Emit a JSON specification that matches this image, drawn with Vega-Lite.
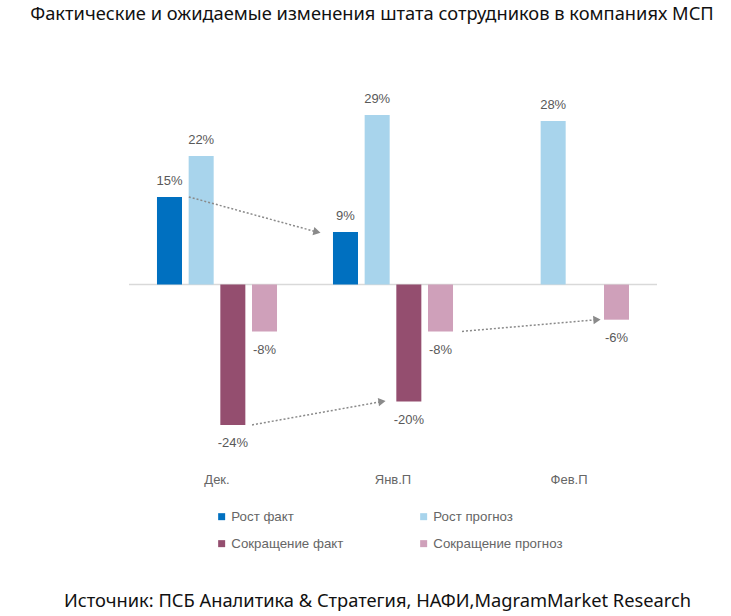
{
  "$schema": "https://vega.github.io/schema/vega-lite/v6.json",
  "width": 528,
  "height": 380,
  "autosize": {"type": "none"},
  "padding": {"left": 129, "top": 80, "right": 74, "bottom": 156},
  "background": "white",
  "title": {
    "text": "Фактические и ожидаемые изменения штата сотрудников в компаниях МСП",
    "font": "Noto Sans",
    "fontSize": 18.3,
    "fontWeight": "normal",
    "color": "#111111",
    "anchor": "middle",
    "dx": -21,
    "offset": 42,
    "baseline": "alphabetic"
  },
  "config": {"view": {"stroke": null}},
  "datasets": {
    "staff": [
      {"month": "Дек.", "series": "Рост факт", "value": 15},
      {"month": "Дек.", "series": "Рост прогноз", "value": 22},
      {"month": "Дек.", "series": "Сокращение факт", "value": -24},
      {"month": "Дек.", "series": "Сокращение прогноз", "value": -8},
      {"month": "Янв.П", "series": "Рост факт", "value": 9},
      {"month": "Янв.П", "series": "Рост прогноз", "value": 29},
      {"month": "Янв.П", "series": "Сокращение факт", "value": -20},
      {"month": "Янв.П", "series": "Сокращение прогноз", "value": -8},
      {"month": "Фев.П", "series": "Рост прогноз", "value": 28},
      {"month": "Фев.П", "series": "Сокращение прогноз", "value": -6}
    ],
    "arrows": [
      {"arrow": "рост", "t": -0.16, "value": 15, "head": false},
      {"arrow": "рост", "t": 0.568, "value": 9, "head": true},
      {"arrow": "сокращение", "t": 0.199, "value": -24, "head": false},
      {"arrow": "сокращение", "t": 0.9375, "value": -20, "head": true},
      {"arrow": "прогноз", "t": 1.392, "value": -8, "head": false},
      {"arrow": "прогноз", "t": 2.159, "value": -6, "head": true}
    ]
  },
  "resolve": {"scale": {"x": "independent"}, "axis": {"x": "independent"}},
  "layer": [
    {
      "data": {"values": [{"value": 0}]},
      "mark": {"type": "rule", "color": "#d9d9d9", "strokeWidth": 1.5},
      "encoding": {
        "y": {"field": "value", "type": "quantitative", "scale": {"domain": [-30, 35], "nice": false}, "axis": null}
      }
    },
    {
      "data": {"name": "staff"},
      "transform": [{"calculate": "datum.value + '%'", "as": "label"}],
      "encoding": {
        "x": {
          "field": "month",
          "type": "nominal",
          "sort": ["Дек.", "Янв.П", "Фев.П"],
          "scale": {"paddingInner": 0.318, "paddingOuter": 0.159},
          "axis": {
            "title": "Источник: ПСБ Аналитика & Стратегия, НАФИ,MagramMarket Research",
            "labelAngle": 0,
            "domain": false,
            "ticks": false,
            "grid": false,
            "labelPadding": 13,
            "labelFont": "Liberation Sans",
            "labelFontSize": 13,
            "labelColor": "#666666",
            "titleFont": "Noto Sans",
            "titleFontSize": 18.3,
            "titleFontWeight": "normal",
            "titleColor": "#111111",
            "titleX": 248,
            "titleY": 146,
            "titleAlign": "center",
            "titleBaseline": "alphabetic"
          }
        },
        "xOffset": {
          "field": "series",
          "type": "nominal",
          "sort": ["Рост факт", "Рост прогноз", "Сокращение факт", "Сокращение прогноз"],
          "scale": {"paddingInner": 0.21, "paddingOuter": 0}
        },
        "y": {"field": "value", "type": "quantitative", "scale": {"domain": [-30, 35], "nice": false}, "axis": null}
      },
      "layer": [
        {
          "mark": {"type": "bar"},
          "encoding": {
            "color": {
              "field": "series",
              "type": "nominal",
              "scale": {
                "domain": ["Рост факт", "Рост прогноз", "Сокращение факт", "Сокращение прогноз"],
                "range": ["#0070C0", "#A8D4EC", "#944E6F", "#CFA0BA"]
              },
              "legend": {
                "title": null,
                "orient": "none",
                "legendX": 86,
                "legendY": 430,
                "direction": "horizontal",
                "columns": 2,
                "columnPadding": 73,
                "rowPadding": 13,
                "padding": 0,
                "symbolType": "square",
                "symbolSize": 49,
                "symbolStrokeWidth": 0,
                "labelFont": "Liberation Sans",
                "labelFontSize": 13.3,
                "labelColor": "#666666",
                "labelOffset": 3
              }
            }
          }
        },
        {
          "transform": [{"filter": "datum.value > 0"}],
          "mark": {"type": "text", "dy": -16, "baseline": "middle", "font": "Liberation Sans", "fontSize": 13, "color": "#595959"},
          "encoding": {"text": {"field": "label", "type": "nominal"}}
        },
        {
          "transform": [{"filter": "datum.value < 0"}],
          "mark": {"type": "text", "dy": 18.5, "baseline": "middle", "font": "Liberation Sans", "fontSize": 13, "color": "#595959"},
          "encoding": {"text": {"field": "label", "type": "nominal"}}
        }
      ]
    },
    {
      "data": {"name": "arrows"},
      "encoding": {
        "x": {"field": "t", "type": "quantitative", "scale": {"domain": [-0.5, 2.5], "nice": false, "zero": false}, "axis": null},
        "y": {"field": "value", "type": "quantitative", "scale": {"domain": [-30, 35], "nice": false}, "axis": null}
      },
      "layer": [
        {
          "mark": {"type": "line", "color": "#8a8a8a", "strokeWidth": 1.5, "strokeDash": [2, 2]},
          "encoding": {"detail": {"field": "arrow", "type": "nominal"}}
        },
        {
          "transform": [{"filter": "datum.head && datum.arrow == 'рост'"}],
          "mark": {"type": "point", "shape": "triangle-right", "filled": true, "color": "#8a8a8a", "opacity": 1, "size": 70, "angle": 12.7}
        },
        {
          "transform": [{"filter": "datum.head && datum.arrow == 'сокращение'"}],
          "mark": {"type": "point", "shape": "triangle-right", "filled": true, "color": "#8a8a8a", "opacity": 1, "size": 70, "angle": -8}
        },
        {
          "transform": [{"filter": "datum.head && datum.arrow == 'прогноз'"}],
          "mark": {"type": "point", "shape": "triangle-right", "filled": true, "color": "#8a8a8a", "opacity": 1, "size": 70, "angle": -4.4}
        }
      ]
    }
  ]
}
